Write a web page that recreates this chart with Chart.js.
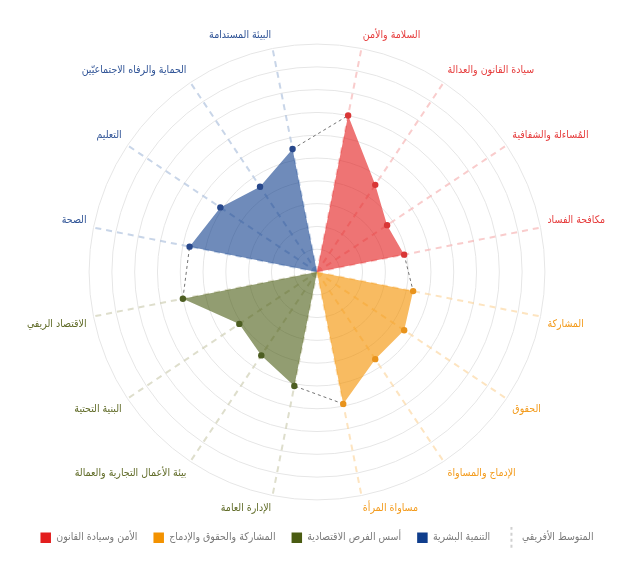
<!DOCTYPE html>
<html>
<head>
<meta charset="utf-8">
<script src="https://cdn.jsdelivr.net/npm/chart.js@4"></script>
<style>
  html, body { margin: 0; padding: 0; background: #ffffff; }
  #wrap { width: 638px; height: 572px; position: relative; }
</style>
</head>
<body>
<div id="wrap"><canvas id="c"></canvas></div>
<script>
// Category labels (clockwise from top)
const categories = [
  'السلامة والأمن', 'سيادة القانون والعدالة', 'المُساءلة والشفافية', 'مكافحة الفساد',
  'المشاركة', 'الحقوق', 'الإدماج والمساواة', 'مساواة المرأة',
  'الإدارة العامة', 'بيئة الأعمال التجارية والعمالة', 'البنية التحتية', 'الاقتصاد الريفي',
  'الصحة', 'التعليم', 'الحماية والرفاه الاجتماعيّين', 'البيئة المستدامة'
];
// Group names (legend)
const groupNames = ['الأمن وسيادة القانون', 'المشاركة والحقوق والإدماج', 'أسس الفرص الاقتصادية', 'التنمية البشرية'];
const averageName = 'المتوسط الأفريقي';
// Series values (0–10 scale)
const securityValues = [7.0, 4.6, 3.7, 3.9];
const participationValues = [4.3, 4.6, 4.6, 5.9];
const economicValues = [5.1, 4.4, 4.1, 6.0];
const humanValues = [5.7, 5.1, 4.5, 5.5];
const africanAverage = [7.0, 4.6, 3.7, 3.9, 4.3, 4.6, 4.6, 5.9, 5.1, 4.4, 4.1, 6.0, 5.7, 5.1, 4.5, 5.5];
const scaleTicks = [0, 1, 2, 3, 4, 5, 6, 7, 8, 9, 10];

const groupValues = [securityValues, participationValues, economicValues, humanValues];
const solidColors = ['#e31e1e', '#f39200', '#4a5c12', '#0f3d8c'];
const fillColors = ['rgba(227,30,30,0.62)', 'rgba(243,146,0,0.62)', 'rgba(74,92,18,0.6)', 'rgba(15,61,140,0.6)'];
const pointColors = ['#d93636', '#e8931c', '#4d5e22', '#28488c'];
const labelColors = ['#e63c3c', '#f39a1a', '#5f6a26', '#2f5396'];
const angleColors = ['rgba(245,170,170,0.6)', 'rgba(252,205,140,0.55)', 'rgba(200,200,170,0.6)', 'rgba(170,190,220,0.65)'];
const FONT = "'DejaVu Sans Condensed', 'DejaVu Sans', sans-serif";

const groupSize = 4;
function fullSeries(g) {
  const arr = new Array(categories.length).fill(0);
  groupValues[g].forEach((v, i) => { arr[g * groupSize + i] = v; });
  return arr;
}
// the average line is only visible in the gaps between the groups
function gapSeries(values) {
  return values.map((v, i) => (i % groupSize === 0 || i % groupSize === groupSize - 1) ? v : null);
}

const datasets = groupValues.map((vals, g) => ({
  label: groupNames[g],
  data: fullSeries(g),
  backgroundColor: fillColors[g],
  borderColor: 'rgba(0,0,0,0)',
  borderWidth: 1,
  fill: 'origin',
  tension: 0,
  pointRadius: (ctx) => (ctx.raw > 0 ? 3.2 : 0),
  pointHoverRadius: (ctx) => (ctx.raw > 0 ? 4 : 0),
  pointBackgroundColor: pointColors[g],
  pointBorderColor: pointColors[g],
  pointBorderWidth: 0,
  legendColor: solidColors[g]
}));

datasets.push({
  label: averageName,
  data: gapSeries(africanAverage),
  fill: false,
  spanGaps: false,
  borderColor: 'rgba(100,100,100,0.9)',
  borderWidth: 1,
  borderDash: [3, 3],
  tension: 0,
  pointRadius: 0,
  pointHoverRadius: 0
});

// dashed vertical line marker for the average in the legend
const avgMarker = document.createElement('canvas');
avgMarker.width = 4; avgMarker.height = 22;
(function () {
  const c = avgMarker.getContext('2d');
  c.strokeStyle = 'rgba(150,150,150,0.9)';
  c.lineWidth = 1;
  c.setLineDash([3, 3]);
  c.beginPath(); c.moveTo(2, 0); c.lineTo(2, 22); c.stroke();
})();

new Chart(document.getElementById('c'), {
  type: 'radar',
  data: { labels: categories, datasets: datasets },
  options: {
    responsive: true,
    maintainAspectRatio: false,
    animation: false,
    layout: { padding: { top: 29, bottom: 19, left: 0, right: 4 } },
    plugins: {
      tooltip: { enabled: false },
      legend: {
        position: 'bottom',
        labels: {
          usePointStyle: true,
          boxHeight: 12,
          boxWidth: 12,
          padding: 16,
          color: '#7a7a7a',
          font: { family: FONT, size: 10.5 },
          generateLabels: (chart) => chart.data.datasets.map((ds, i) => {
            const isAvg = i === chart.data.datasets.length - 1;
            return {
              text: ds.label,
              datasetIndex: i,
              fillStyle: isAvg ? 'rgba(0,0,0,0)' : ds.legendColor,
              strokeStyle: isAvg ? 'rgba(0,0,0,0)' : ds.legendColor,
              lineWidth: 0,
              pointStyle: isAvg ? avgMarker : 'rect',
              rotation: 0,
              fontColor: '#7a7a7a',
              hidden: false
            };
          })
        }
      }
    },
    scales: {
      r: {
        min: scaleTicks[0],
        max: scaleTicks[scaleTicks.length - 1],
        startAngle: 11.25,
        ticks: { display: false, stepSize: 1 },
        grid: { circular: true, color: '#e6e6e6', lineWidth: 1 },
        angleLines: {
          display: true,
          color: (ctx) => angleColors[Math.floor(ctx.index / groupSize)],
          lineWidth: 2,
          borderDash: [6, 5]
        },
        pointLabels: {
          padding: 7,
          color: (ctx) => labelColors[Math.floor(ctx.index / groupSize)],
          font: { family: FONT, size: 10.5 }
        }
      }
    }
  }
});
</script>
</body>
</html>
